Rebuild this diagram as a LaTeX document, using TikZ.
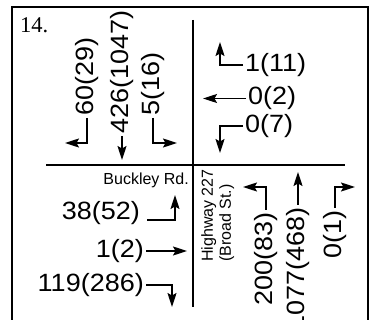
\documentclass[tikz,border=0pt]{standalone}
\usepackage{fontspec}
\setmainfont{Liberation Sans}
\newfontfamily\labfont[FakeStretch=1.08]{Liberation Sans}
\newfontfamily\numfont{Liberation Serif}
\usetikzlibrary{arrows.meta}
\begin{document}
\begin{tikzpicture}[x=1pt,y=-1pt,
  frame/.style={line width=2.2pt},
  road/.style={line width=2pt},
  mv/.style={line width=1.5pt,-{Stealth[length=14pt,width=9pt,inset=2.5pt]}},
  vol/.style={font=\labfont\fontsize{25}{30}\selectfont,inner sep=2pt},
  volup/.style={vol,rotate=90},
  street/.style={font=\fontsize{16}{18}\selectfont,inner sep=0pt}]
\useasboundingbox (0,0) rectangle (377,320);
\clip (0,0) rectangle (377,320);

% outer frame, open at the bottom
\draw[frame] (12,330) -- (12,7) -- (368,7) -- (368,330);

% problem number
\node[font=\numfont\fontsize{22.5}{26}\selectfont,inner sep=0pt,anchor=base west] (num) at (20,33) {14.};

% the two roads
\coordinate (rw) at (46,165);
\coordinate (re) at (345,165);
\coordinate (rn) at (193,20);
\coordinate (rs) at (193,307);
\draw[road] (rw) -- (re);
\draw[road] (rn) -- (rs);

% street names
\node[street,anchor=base east] (buckley) at (189,185) {Buckley Rd.};
\node[street,rotate=90,anchor=north west,align=left] (hwy) at (201,262) {Highway 227\\(Broad St.)};

% southbound approach
\node[volup,anchor=west] (sl) at (87,118) {60(29)};
\node[volup,anchor=west] (st) at (122,136) {426(1047)};
\node[volup,anchor=west] (sr) at (153,118) {5(16)};
\coordinate (slT) at (65,143);
\coordinate (stT) at (122,160);
\coordinate (srT) at (177,143);
\draw[mv] (sl.west) |- (slT);
\draw[mv] (st.west) -- (stT);
\draw[mv] (sr.west) |- (srT);

% westbound approach
\node[vol,anchor=west] (wr) at (243,65) {1(11)};
\node[vol,anchor=west] (wt) at (246,98.5) {0(2)};
\node[vol,anchor=west] (wl) at (243,126) {0(7)};
\coordinate (wrT) at (220,42);
\coordinate (wtT) at (203,98.5);
\coordinate (wlT) at (220,153);
\draw[mv] (wr.west) -| (wrT);
\draw[mv] (wt.west) -- (wtT);
\draw[mv] (wl.west) -| (wlT);

% eastbound approach
\node[vol,anchor=base east] (el) at (142,220) {38(52)};
\node[vol,anchor=east] (et) at (146,251) {1(2)};
\node[vol,anchor=east] (er) at (146,285) {119(286)};
\coordinate (elT) at (175,195);
\coordinate (etT) at (187,251);
\coordinate (erT) at (172,307);
\draw[mv,shorten <=5pt] (el.base east) -| (elT);
\draw[mv] (et.east) -- (etT);
\draw[mv] (er.east) -| (erT);

% northbound approach
\node[volup,anchor=east] (nl) at (266,210) {200(83)};
\node[volup,anchor=east] (nt) at (298,205) {1077(468)};
\node[volup,anchor=east] (nr) at (335,208) {0(1)};
\coordinate (nlT) at (243,187);
\coordinate (ntT) at (298,172);
\coordinate (nrT) at (355,187);
\draw[mv] (nl.east) |- (nlT);
\draw[mv] (nt.east) -- (ntT);
\draw[mv] (nr.east) |- (nrT);
\end{tikzpicture}
\end{document}
